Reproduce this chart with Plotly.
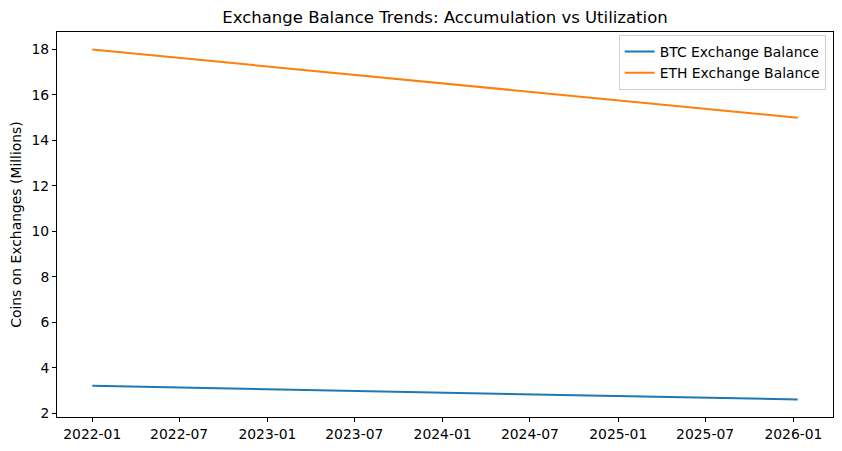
import plotly.graph_objects as go

dates = ["2022-01-01", "2023-01-01", "2024-01-01", "2025-01-01", "2026-01-10"]
btc_balance = [3.2, 3.05, 2.9, 2.75, 2.6]
eth_balance = [18.0, 17.25, 16.5, 15.75, 15.0]

title_text = "Exchange Balance Trends: Accumulation vs Utilization"
y_label = "Coins on Exchanges (Millions)"
x_tickvals = ["2022-01-01", "2022-07-01", "2023-01-01", "2023-07-01", "2024-01-01",
              "2024-07-01", "2025-01-01", "2025-07-01", "2026-01-01"]
x_ticktext = ["2022-01", "2022-07", "2023-01", "2023-07", "2024-01",
              "2024-07", "2025-01", "2025-07", "2026-01"]
y_ticks = [2, 4, 6, 8, 10, 12, 14, 16, 18]

font = "DejaVu Sans"
fs = 13.9

# page body has an 8px margin, so the figure is sized to fit inside it
W, H = 826, 435

fig = go.Figure()
fig.add_trace(go.Scatter(x=dates, y=btc_balance, mode="lines", name="BTC Exchange Balance",
                         line=dict(color="#1f77b4", width=2)))
fig.add_trace(go.Scatter(x=dates, y=eth_balance, mode="lines", name="ETH Exchange Balance",
                         line=dict(color="#ff7f0e", width=2)))

fig.update_layout(
    width=W, height=H,
    margin=dict(l=49, r=1, t=24, b=26, autoexpand=False),
    paper_bgcolor="white", plot_bgcolor="white",
    font=dict(family=font, size=fs, color="black"),
    title=dict(text=title_text, x=0.5, xref="paper", xanchor="center",
               y=1 - 9.5 / H, yref="container", yanchor="middle", automargin=False,
               font=dict(family=font, size=16.5, color="black")),
    showlegend=True,
    legend=dict(x=0.9906, y=0.992, xanchor="right", yanchor="top",
                bgcolor="rgba(255,255,255,0.8)", bordercolor="#d0d0d0", borderwidth=1,
                font=dict(family=font, size=fs), tracegroupgap=0, itemwidth=30),
)

fig.update_xaxes(
    type="date", automargin=False,
    range=["2021-10-19 12:00", "2026-03-24 12:00"],
    tickvals=x_tickvals, ticktext=x_ticktext,
    showgrid=False, zeroline=False,
    showline=True, linecolor="black", linewidth=1, mirror=True,
    ticks="outside", ticklen=4, tickwidth=1, tickcolor="black",
    tickfont=dict(family=font, size=fs, color="black"),
)
fig.update_yaxes(
    automargin=False,
    range=[1.83, 18.77],
    tickvals=y_ticks,
    showgrid=False, zeroline=False,
    showline=True, linecolor="black", linewidth=1, mirror=True,
    ticks="outside", ticklen=4, tickwidth=1, tickcolor="black",
    tickfont=dict(family=font, size=fs, color="black"),
    title=dict(text=y_label, font=dict(family=font, size=fs, color="black"), standoff=10),
)

fig.write_html("out.html")
